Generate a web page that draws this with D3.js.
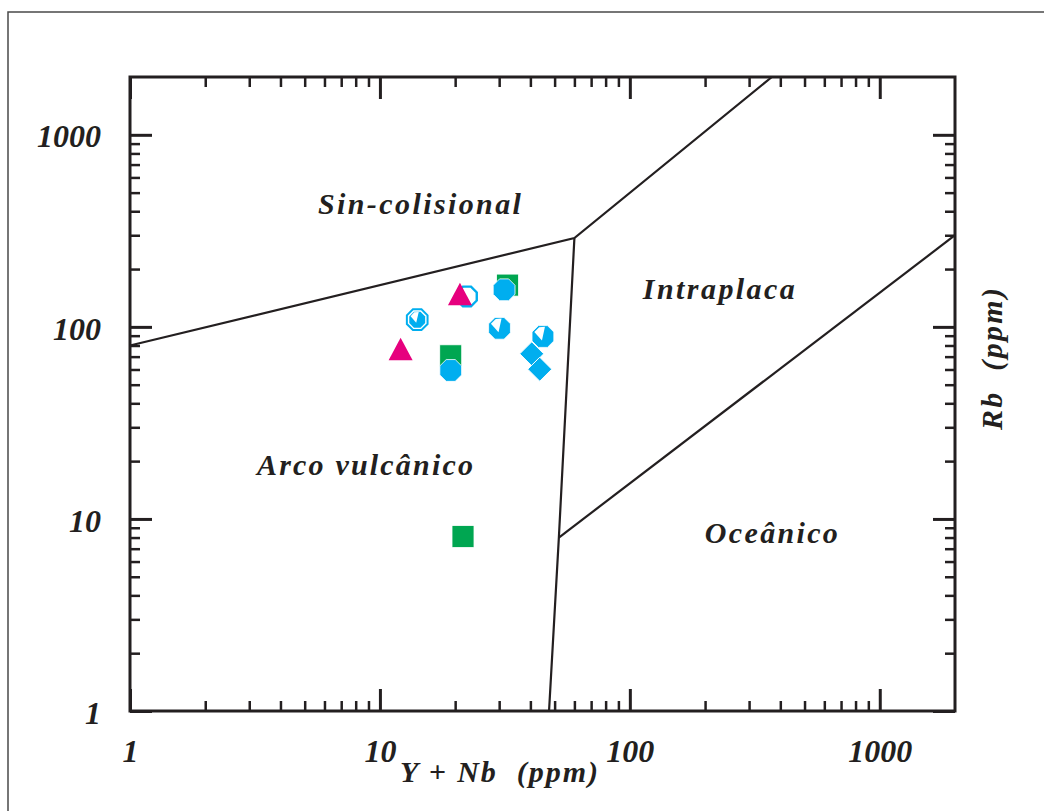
<!DOCTYPE html>
<html>
<head>
<meta charset="utf-8">
<script src="https://cdn.jsdelivr.net/npm/d3@7"></script>
<style>
  body { margin: 0; background: #fff; }
  svg text { font-family: "Liberation Serif", "DejaVu Serif", serif; font-style: italic; font-weight: bold; fill: #231f20; }
</style>
</head>
<body>
<div id="chart"></div>
<script>
// data (Y+Nb vs Rb, ppm)
var triX = [20.9, 12.1];          // magenta triangles
var triY = [148, 76.5];
var sqX = [32.4, 19.2, 21.5];     // green squares
var sqY = [165, 70.7, 8.1];
var octX = [31.4, 19.2];          // cyan filled octagons
var octY = [156, 59.3];
var wedgeX = [30.1, 44.9];        // cyan octagons with white wedge
var wedgeY = [98.3, 89.1];
var ringX = [14.1];               // ringed octagon
var ringY = [109];
var openX = [22.3];               // open octagon
var openY = [144];
var diaX = [40.5, 43.6];          // cyan diamonds
var diaY = [72.4, 60.2];

// field boundaries
var boundaries = [
  [[1, 80], [60, 290], [370, 2000]],
  [[60, 290], [52, 8], [47.5, 1]],
  [[52, 8], [2000, 300]]
];

var fieldNames = ["Sin-colisional", "Intraplaca", "Arco vulcânico", "Oceânico"];
var fieldX = [5.65, 112.7, 3.22, 199.5];
var fieldY = [388, 140.4, 16.9, 7.47];
var fieldW = [203, 152, 216, 133];

var majorTicks = [1, 10, 100, 1000];
var tickLabels = ["1", "10", "100", "1000"];

var W = 1044, H = 811;
var magenta = "#e6007e", green = "#00a651", cyan = "#00aeef", ink = "#231f20";

var svg = d3.select("#chart").append("svg")
    .attr("width", W)
    .attr("height", H);

// outer frame of the figure
svg.append("rect")
    .attr("x", 8).attr("y", 12)
    .attr("width", 1100).attr("height", 900)
    .attr("fill", "none")
    .attr("stroke", "#4a4a4a")
    .attr("stroke-width", 1.5);

var x = d3.scaleLog().domain([1, 2000]).range([130, 955]);
var y = d3.scaleLog().domain([1, 2000]).range([711, 77]);

var minorTicks = [];
majorTicks.forEach(function(d) {
  for (var k = 2; k <= 9; k++) if (d * k < 2000) minorTicks.push(d * k);
});

function styleAxis(g, w) {
  g.select(".domain").remove();
  g.selectAll(".tick line").attr("stroke", ink).attr("stroke-width", w);
}

// bottom
svg.append("g").attr("transform", "translate(0,711)")
    .call(d3.axisBottom(x).tickValues(minorTicks).tickSize(-10).tickFormat(""))
    .call(styleAxis, 2.5);
svg.append("g").attr("transform", "translate(0,711)")
    .call(d3.axisBottom(x).tickValues(majorTicks).tickSize(-22).tickPadding(28)
      .tickFormat(function(d, i) { return tickLabels[i]; }))
    .call(styleAxis, 3)
    .selectAll("text").attr("font-size", 32).attr("fill", ink);
// top
svg.append("g").attr("transform", "translate(0,77)")
    .call(d3.axisTop(x).tickValues(minorTicks).tickSize(-10).tickFormat(""))
    .call(styleAxis, 2.5);
svg.append("g").attr("transform", "translate(0,77)")
    .call(d3.axisTop(x).tickValues(majorTicks).tickSize(-22).tickFormat(""))
    .call(styleAxis, 3);
// left
svg.append("g").attr("transform", "translate(130,0)")
    .call(d3.axisLeft(y).tickValues(minorTicks).tickSize(-10).tickFormat(""))
    .call(styleAxis, 2.5);
svg.append("g").attr("transform", "translate(130,0)")
    .call(d3.axisLeft(y).tickValues(majorTicks).tickSize(-22).tickPadding(29)
      .tickFormat(function(d, i) { return tickLabels[i]; }))
    .call(styleAxis, 3)
    .selectAll("text").attr("font-size", 32).attr("fill", ink).attr("dy", "0.38em");
// right
svg.append("g").attr("transform", "translate(955,0)")
    .call(d3.axisRight(y).tickValues(minorTicks).tickSize(-10).tickFormat(""))
    .call(styleAxis, 2.5);
svg.append("g").attr("transform", "translate(955,0)")
    .call(d3.axisRight(y).tickValues(majorTicks).tickSize(-22).tickFormat(""))
    .call(styleAxis, 3);

// plot frame
svg.append("rect")
    .attr("x", x(1)).attr("y", y(2000))
    .attr("width", x(2000) - x(1)).attr("height", y(1) - y(2000))
    .attr("fill", "none")
    .attr("stroke", ink)
    .attr("stroke-width", 3);

// boundaries
var line = d3.line().x(function(d) { return x(d[0]); }).y(function(d) { return y(d[1]); });
svg.append("g").selectAll("path")
    .data(boundaries)
    .enter().append("path")
    .attr("d", line)
    .attr("fill", "none")
    .attr("stroke", ink)
    .attr("stroke-width", 2.2);

// field names
svg.append("g").selectAll("text")
    .data(fieldNames)
    .enter().append("text")
    .attr("x", function(d, i) { return x(fieldX[i]); })
    .attr("y", function(d, i) { return y(fieldY[i]); })
    .attr("font-size", 30)
    .attr("textLength", function(d, i) { return fieldW[i]; })
    .attr("lengthAdjust", "spacing")
    .text(function(d) { return d; });

// axis titles
svg.append("text")
    .attr("x", 400).attr("y", 782)
    .attr("font-size", 30)
    .attr("textLength", 198).attr("lengthAdjust", "spacing")
    .attr("xml:space", "preserve")
    .text("Y + Nb  (ppm)");
svg.append("text")
    .attr("transform", "translate(1002,430) rotate(-90)")
    .attr("font-size", 30)
    .attr("textLength", 142).attr("lengthAdjust", "spacing")
    .attr("xml:space", "preserve")
    .text("Rb  (ppm)");

// symbols
function zip(a, b) { return a.map(function(v, i) { return [v, b[i]]; }); }
function octagon(r) {
  var pts = [];
  for (var i = 0; i < 8; i++) {
    var a = Math.PI / 8 + i * Math.PI / 4;
    pts.push([r * Math.cos(a), r * Math.sin(a)]);
  }
  return "M" + pts.join("L") + "Z";
}
var wedge = "M-1,4L2,-9.8L-3.8,-9.2L-8.6,-4.6Z";
var marks = svg.append("g");
function place(d) { return "translate(" + x(d[0]) + "," + y(d[1]) + ")"; }

// open octagon
marks.selectAll(".open").data(zip(openX, openY)).enter().append("path")
    .attr("class", "open").attr("transform", place)
    .attr("d", octagon(10.6))
    .attr("fill", "#fff").attr("stroke", cyan).attr("stroke-width", 2.4);

// ringed octagon
var ring = marks.selectAll(".ring").data(zip(ringX, ringY)).enter().append("g")
    .attr("class", "ring").attr("transform", place);
ring.append("path").attr("d", octagon(11.2))
    .attr("fill", "#fff").attr("stroke", cyan).attr("stroke-width", 2);
ring.append("path").attr("d", octagon(8.6)).attr("fill", cyan);
ring.append("path").attr("d", "M-1,3L1.5,-7.8L-3,-7.5L-6.6,-3.5Z").attr("fill", "#fff");

// wedge octagons
var wg = marks.selectAll(".wedge").data(zip(wedgeX, wedgeY)).enter().append("g")
    .attr("class", "wedge").attr("transform", place);
wg.append("path").attr("d", octagon(11.8)).attr("fill", cyan).attr("stroke", "#fff").attr("stroke-width", 0.8);
wg.append("path").attr("d", wedge).attr("fill", "#fff");

// squares
marks.selectAll(".sq").data(zip(sqX, sqY)).enter().append("rect")
    .attr("class", "sq").attr("transform", place)
    .attr("x", -11).attr("y", -11).attr("width", 22).attr("height", 22)
    .attr("fill", green).attr("stroke", "#fff").attr("stroke-width", 0.8);

// filled octagons
marks.selectAll(".oct").data(zip(octX, octY)).enter().append("path")
    .attr("class", "oct").attr("transform", place)
    .attr("d", octagon(11.8))
    .attr("fill", cyan).attr("stroke", "#fff").attr("stroke-width", 0.8);

// triangles
marks.selectAll(".tri").data(zip(triX, triY)).enter().append("path")
    .attr("class", "tri").attr("transform", place)
    .attr("d", "M0,-11.5L12,11L-12,11Z")
    .attr("fill", magenta);

// diamonds
marks.selectAll(".dia").data(zip(diaX, diaY)).enter().append("path")
    .attr("class", "dia").attr("transform", place)
    .attr("d", "M0,-12L12,0L0,12L-12,0Z")
    .attr("fill", cyan).attr("stroke", "#fff").attr("stroke-width", 1);
</script>
</body>
</html>
